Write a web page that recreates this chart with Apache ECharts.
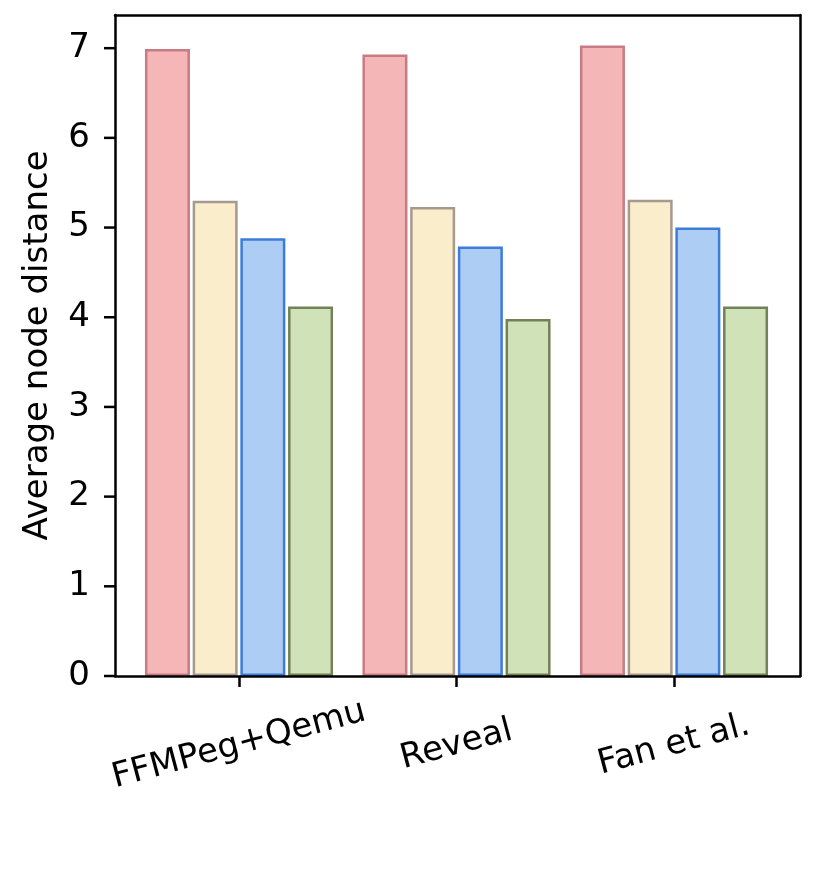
<!DOCTYPE html>
<html>
<head>
<meta charset="utf-8">
<script src="https://cdn.jsdelivr.net/npm/echarts@6/dist/echarts.min.js"></script>
<style>
  html, body { margin: 0; padding: 0; background: #fff; }
  #chart { width: 830px; height: 871px; }
</style>
</head>
<body>
<div id="chart"></div>
<script>
// data
var categories = ['FFMPeg+Qemu', 'Reveal', 'Fan et al.'];
var seriesA = [6.99, 6.93, 7.03];
var seriesB = [5.30, 5.23, 5.31];
var seriesC = [4.88, 4.79, 5.00];
var seriesD = [4.12, 3.98, 4.12];
var yTicks = [0, 1, 2, 3, 4, 5, 6, 7];

var font = 'DejaVu Sans';
var yMax = 7.37;   // top of the frame in data units

// fill / edge per series
var fills = ['#f4b6b7', '#faedcc', '#aecdf5', '#d0e2b8'];
var edges = ['#c97b84', '#a8998f', '#3b7dd8', '#728256'];
var values = [seriesA, seriesB, seriesC, seriesD];

var chart = echarts.init(document.getElementById('chart'), null, { renderer: 'canvas' });

var spine = { show: true, onZero: false, lineStyle: { color: '#000', width: 2.5 } };
var off = { show: false };
var frameLeft = 115, frameRight = 30;
var barLeft = 130.25, barRight = 47.25;
var plotTop = 15, plotBottom = 195, plotH = 871 - plotTop - plotBottom;
var yTickMax = yTicks[yTicks.length - 1];
// bar grid's top sits where the last tick value falls inside the frame
var barTop = plotTop + plotH * (yMax - yTickMax) / yMax;
var tickLen = 11;

var bars = values.map(function (v, i) {
  return {
    name: 'series' + (i + 1),
    type: 'bar',
    xAxisIndex: 2,
    yAxisIndex: 2,
    clip: false,
    data: v,
    barWidth: 45,
    barGap: '6%',
    itemStyle: { color: fills[i], borderColor: edges[i], borderWidth: 2.5 }
  };
});

// y tick marks, placed through the frame's own y scale
var yTickMarks = {
  type: 'custom',
  xAxisIndex: 0,
  yAxisIndex: 0,
  clip: false,
  silent: true,
  z: 20,
  data: yTicks.map(function (t) { return [0, t]; }),
  renderItem: function (params, api) {
    var p = api.coord([0, api.value(1)]);
    return {
      type: 'line',
      shape: { x1: p[0] - tickLen, y1: p[1], x2: p[0], y2: p[1] },
      style: { stroke: '#000', lineWidth: 2.5 }
    };
  }
};

var option = {
  animation: false,
  backgroundColor: '#fff',
  grid: [
    // frame
    { left: frameLeft, right: frameRight, top: plotTop, bottom: plotBottom },
    // bars, narrower so the groups sit like matplotlib's margins
    { left: barLeft, right: barRight, top: barTop, bottom: plotBottom }
  ],
  xAxis: [
    { gridIndex: 0, type: 'value', min: 0, max: 1, position: 'bottom', z: 10,
      axisLine: spine, axisTick: off, axisLabel: off, splitLine: off },
    { gridIndex: 0, type: 'value', min: 0, max: 1, position: 'top', z: 10,
      axisLine: spine, axisTick: off, axisLabel: off, splitLine: off },
    { gridIndex: 1, type: 'category', data: categories, position: 'bottom',
      axisLine: { show: false },
      axisTick: { show: true, alignWithLabel: true, length: tickLen, lineStyle: { color: '#000', width: 2.5 } },
      axisLabel: {
        rotate: 15, align: 'center', verticalAlign: 'middle', margin: 69,
        fontFamily: font, fontSize: 34, color: '#000'
      } }
  ],
  yAxis: [
    { gridIndex: 0, type: 'value', min: 0, max: yMax, position: 'left', z: 10,
      name: 'Average node distance', nameLocation: 'middle', nameGap: 60, nameRotate: 90,
      nameTextStyle: { fontFamily: font, fontSize: 34, color: '#000' },
      axisLine: spine, axisTick: off, axisLabel: off, splitLine: off },
    { gridIndex: 0, type: 'value', min: 0, max: yMax, position: 'right', z: 10,
      axisLine: spine, axisTick: off, axisLabel: off, splitLine: off },
    // value axis of the bars, shifted out onto the frame's left edge (labels)
    { gridIndex: 1, type: 'value', min: yTicks[0], max: yTickMax, interval: 1,
      position: 'left', offset: barLeft - frameLeft,
      axisLine: { show: false, onZero: false },
      axisTick: off,
      axisLabel: { margin: 25, fontFamily: font, fontSize: 34, color: '#000' },
      splitLine: off }
  ],
  series: bars.concat([yTickMarks])
};

chart.setOption(option);
</script>
</body>
</html>
